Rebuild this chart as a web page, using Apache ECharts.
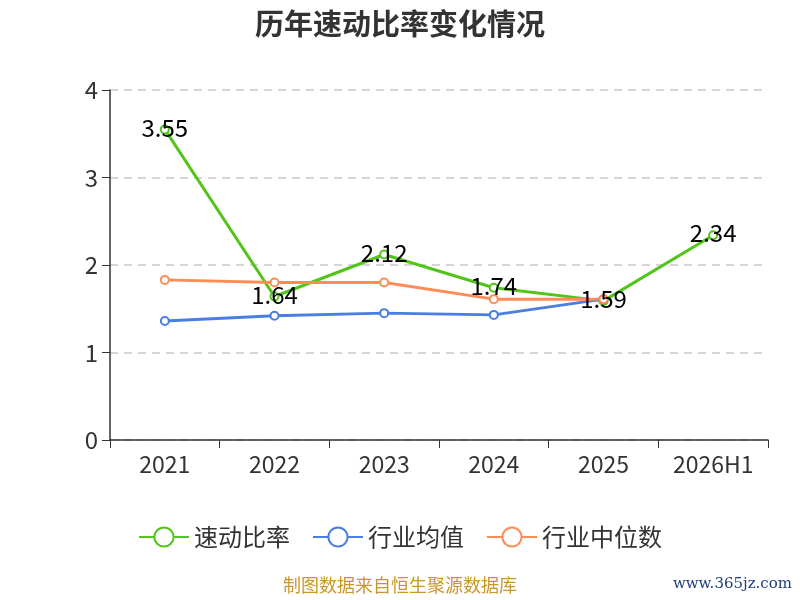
<!DOCTYPE html>
<html>
<head>
<meta charset="utf-8">
<script src="https://cdn.jsdelivr.net/npm/echarts@6/dist/echarts.min.js"></script>
<style>
  html, body { margin: 0; padding: 0; background: #fff; }
  #chart { width: 800px; height: 600px; }
</style>
</head>
<body>
<div id="chart"></div>
<script>
// 数据
var years = ['2021', '2022', '2023', '2024', '2025', '2026H1'];
var quickRatio = [3.55, 1.64, 2.12, 1.74, 1.59, 2.34];
var industryAvg = [1.36, 1.42, 1.45, 1.43, 1.61, null];
var industryMedian = [1.83, 1.80, 1.80, 1.61, 1.61, null];
var yTicks = [0, 1, 2, 3, 4];

var font = '"Noto Sans CJK SC", "Noto Sans", sans-serif';

var myChart = echarts.init(document.getElementById('chart'));

function line(name, data, color, withLabel) {
  return {
    name: name,
    type: 'line',
    data: data,
    symbol: 'emptyCircle',
    symbolSize: 8,
    connectNulls: false,
    lineStyle: { color: color, width: 3 },
    itemStyle: { color: color, borderWidth: 1.5 },
    label: {
      show: withLabel,
      position: 'inside',
      offset: [0, -2],
      color: '#000',
      fontSize: 24,
      fontFamily: font
    }
  };
}

var option = {
  textStyle: { fontFamily: font },
  title: {
    text: '历年速动比率变化情况',
    left: 'center',
    top: 4,
    textStyle: { fontSize: 29, fontWeight: 'bold', color: '#333', fontFamily: font }
  },
  legend: {
    bottom: 46,
    left: 'center',
    itemWidth: 50,
    itemHeight: 24,
    itemGap: 22,
    textStyle: { fontSize: 24, color: '#333', fontFamily: font },
    data: ['速动比率', '行业均值', '行业中位数']
  },
  grid: { left: 110, right: 32, top: 90, bottom: 160 },
  xAxis: {
    type: 'category',
    data: years,
    boundaryGap: true,
    axisLine: { lineStyle: { color: '#333', width: 1.5 } },
    axisTick: { show: true, length: 8, lineStyle: { color: '#333' } },
    axisLabel: { fontSize: 23, color: '#333', margin: 13, fontFamily: font }
  },
  yAxis: {
    type: 'value',
    min: yTicks[0],
    max: yTicks[yTicks.length - 1],
    interval: 1,
    axisLine: { show: true, lineStyle: { color: '#333', width: 1.5 } },
    axisTick: { show: true, length: 8, lineStyle: { color: '#333' } },
    axisLabel: { fontSize: 24, color: '#333', margin: 12, fontFamily: font },
    splitLine: { lineStyle: { type: [8, 6], color: '#c8c8c8', width: 1.5 } }
  },
  series: [
    line('速动比率', quickRatio, '#52c41a', true),
    line('行业均值', industryAvg, '#4a7ee3', false),
    line('行业中位数', industryMedian, '#ff8c57', false)
  ],
  graphic: [
    {
      type: 'text',
      left: 'center',
      top: 576,
      style: { text: '制图数据来自恒生聚源数据库', fill: '#c9962a', fontSize: 18, fontFamily: font }
    },
    {
      type: 'text',
      right: 8,
      top: 577,
      style: { text: 'www.365jz.com', fill: '#1f3d7a', fontSize: 15, fontFamily: 'DejaVu Serif, serif' }
    }
  ]
};

myChart.setOption(option);
</script>
</body>
</html>
